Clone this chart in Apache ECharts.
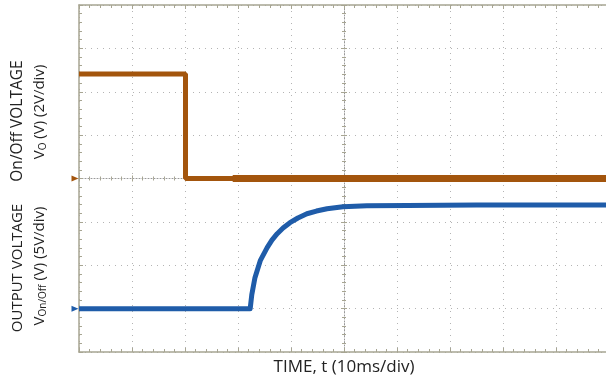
<!DOCTYPE html>
<html><head><meta charset="utf-8">
<script src="https://cdn.jsdelivr.net/npm/echarts@6/dist/echarts.min.js"></script>
<style>html,body{margin:0;padding:0;background:#fff}#c{width:606px;height:382px}</style>
</head><body><div id="c"></div>
<script>
// time in ms (10 ms/div)
const orangeTime = [0, 20.1, 20.1, 30];
const orangeV    = [4.82, 4.82, 0, 0];          // On/Off voltage (V), 2 V/div
const orangeNoisyTime = [29, 100];
const orangeNoisyV    = [0, 0];
const blueTime = [0, 32.3, 32.6, 33.2, 34.2, 35.5, 36.4, 37.4, 38.5, 39.8, 41.3, 43.0, 44.8, 46.8, 49.8, 54.3, 62, 75, 100];
const blueV    = [0, 0, 1.6, 3.57, 5.53, 7.03, 7.9, 8.64, 9.3, 9.91, 10.45, 10.94, 11.25, 11.52, 11.75, 11.87, 11.9, 11.95, 11.95]; // output voltage (V), 5 V/div
const xLabel = 'TIME, t (10ms/div)';

const orange = '#a3550d', blue = '#1f5ca9', axisCol = '#a7a592', gridCol = '#b4b4b4';
const zip = (a, b) => a.map((v, i) => [v, b[i]]);

const chart = echarts.init(document.getElementById('c'));
const tickBase = {show: true, inside: true, length: 4, lineStyle: {color: axisCol}};
const minorBase = {show: true, splitNumber: 5, length: 3, lineStyle: {color: axisCol}};
const font = 'Open Sans';
chart.setOption({
  animation: false,
  grid: {left: 79, right: -3, top: 5, bottom: 30, containLabel: false, outerBoundsMode: 'none'},
  xAxis: [
    {type: 'value', min: 0, max: 100, interval: 10, position: 'bottom',
     axisLine: {onZero: false, lineStyle: {color: axisCol, width: 1.5}},
     axisTick: tickBase, minorTick: minorBase, axisLabel: {show: false},
     splitLine: {show: true, lineStyle: {color: gridCol, type: [1, 5]}},
     name: xLabel, nameLocation: 'middle', nameGap: 7,
     nameTextStyle: {fontFamily: font, fontSize: 17, color: '#222'}},
    {type: 'value', min: 0, max: 100, interval: 10, position: 'top',
     axisLine: {onZero: false, lineStyle: {color: axisCol, width: 1.5}},
     axisTick: tickBase, minorTick: minorBase, axisLabel: {show: false}, splitLine: {show: false}},
    {type: 'value', min: 0, max: 100, interval: 10, position: 'bottom',
     axisLine: {onZero: true, onZeroAxisIndex: 0, lineStyle: {color: '#999', type: [1, 2]}},
     axisTick: {show: true, inside: true, length: 3, lineStyle: {color: axisCol}},
     minorTick: {show: true, splitNumber: 5, length: 2, lineStyle: {color: axisCol}},
     axisLabel: {show: false}, splitLine: {show: false}},
    {type: 'value', min: 0, max: 100, interval: 10, position: 'bottom',
     axisLine: {onZero: true, onZeroAxisIndex: 0, show: false},
     axisTick: {show: true, inside: false, length: 3, lineStyle: {color: axisCol}},
     minorTick: {show: true, splitNumber: 5, length: 2, lineStyle: {color: axisCol}},
     axisLabel: {show: false}, splitLine: {show: false}},
    {type: 'value', min: -50, max: 50, show: false}
  ],
  yAxis: [
    {type: 'value', min: -8, max: 8, interval: 2, position: 'left',
     axisLine: {show: true, onZero: false, lineStyle: {color: axisCol, width: 1.5}},
     axisTick: tickBase, minorTick: minorBase, axisLabel: {show: false},
     splitLine: {show: true, lineStyle: {color: gridCol, type: [1, 5]}}},
    {type: 'value', min: -5, max: 35, interval: 5, show: false},
    {type: 'value', min: -8, max: 8, interval: 2, position: 'left',
     axisLine: {show: true, onZero: true, onZeroAxisIndex: 4, lineStyle: {color: '#999', type: [1, 2]}},
     axisTick: {show: true, inside: true, length: 3, lineStyle: {color: axisCol}},
     minorTick: {show: true, splitNumber: 5, length: 2, lineStyle: {color: axisCol}},
     axisLabel: {show: false}, splitLine: {show: false}},
    {type: 'value', min: -8, max: 8, interval: 2, position: 'left',
     axisLine: {show: false, onZero: true, onZeroAxisIndex: 4},
     axisTick: {show: true, inside: false, length: 3, lineStyle: {color: axisCol}},
     minorTick: {show: true, splitNumber: 5, length: 2, lineStyle: {color: axisCol}},
     axisLabel: {show: false}, splitLine: {show: false}}
  ],
  series: [
    {type: 'line', xAxisIndex: 0, yAxisIndex: 0, data: zip(orangeTime, orangeV), showSymbol: false,
     lineStyle: {color: orange, width: 5}, z: 5,
     markPoint: {silent: true, symbol: 'triangle', symbolSize: [6, 7], symbolRotate: -90, symbolOffset: [-4, 0],
       itemStyle: {color: orange}, label: {show: false}, data: [{coord: [0, 0]}]}},
    {type: 'line', xAxisIndex: 0, yAxisIndex: 0, data: zip(orangeNoisyTime, orangeNoisyV), showSymbol: false,
     lineStyle: {color: orange, width: 7}, z: 5},
    {type: 'line', xAxisIndex: 0, yAxisIndex: 1, data: zip(blueTime, blueV), showSymbol: false,
     lineStyle: {color: blue, width: 5, join: 'round'}, z: 5,
     markPoint: {silent: true, symbol: 'triangle', symbolSize: [6, 7], symbolRotate: -90, symbolOffset: [-4, 0],
       itemStyle: {color: blue}, label: {show: false}, data: [{coord: [0, 0]}]}}
  ],
  graphic: [
    {type: 'text', x: 18, y: 121, rotation: Math.PI / 2,
     style: {text: 'On/Off VOLTAGE', fontFamily: font, fontSize: 15.5, fill: '#222', align: 'center', verticalAlign: 'middle'}},
    {type: 'text', x: 40, y: 112, rotation: Math.PI / 2,
     style: {text: 'V{s|O} (V) (2V/div)', fontFamily: font, fontSize: 15, fill: '#222', align: 'center', verticalAlign: 'middle',
       rich: {s: {fontSize: 10, fontFamily: font, fill: '#222', verticalAlign: 'bottom', padding: [6, 0, 0, 0]}}}},
    {type: 'text', x: 18, y: 268, rotation: Math.PI / 2,
     style: {text: 'OUTPUT VOLTAGE', fontFamily: font, fontSize: 15, fill: '#222', align: 'center', verticalAlign: 'middle'}},
    {type: 'text', x: 40, y: 266, rotation: Math.PI / 2,
     style: {text: 'V{s|On/Off} (V) (5V/div)', fontFamily: font, fontSize: 15, fill: '#222', align: 'center', verticalAlign: 'middle',
       rich: {s: {fontSize: 10, fontFamily: font, fill: '#222', verticalAlign: 'bottom', padding: [6, 0, 0, 0]}}}}
  ]
});
</script>
</body></html>
